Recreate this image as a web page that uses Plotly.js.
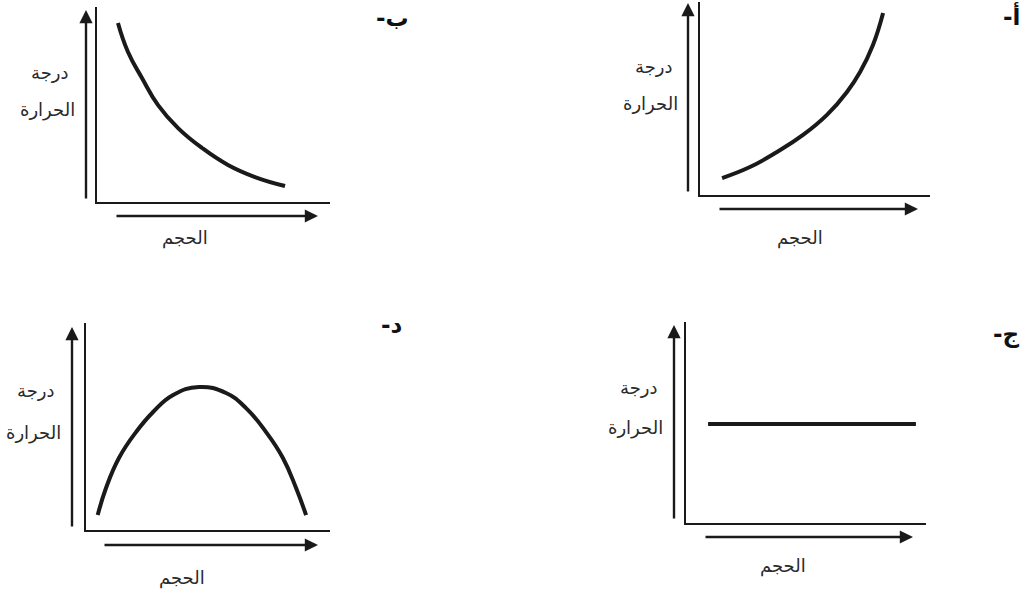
<!DOCTYPE html>
<html>
<head>
<meta charset="utf-8">
<script src="https://cdn.plot.ly/plotly-3.0.1.min.js"></script>
<style>
  html, body { margin: 0; padding: 0; background: #fff; }
  #chart { width: 1034px; height: 595px; }
</style>
</head>
<body>
<div id="chart"></div>
<script>
const W = 1034;
const H = 595;

// text
const Y_LABEL_TOP = 'درجة';
const Y_LABEL_BOTTOM = 'الحرارة';
const X_LABEL = 'الحجم';
const PANEL_LETTERS = ['أ-', 'ب-', 'ج-', 'د-'];

// curve points (axes run 0..10)
const curveA_x = [0.96, 2.17, 3.35, 4.48, 5.52, 6.39, 6.96, 7.52, 7.96];
const curveA_y = [0.88, 1.45, 2.23, 3.11, 4.15, 5.34, 6.37, 7.77, 9.43];

const curveB_x = [0.90, 1.33, 1.93, 2.62, 3.48, 4.51, 5.62, 6.78, 8.07];
const curveB_y = [9.18, 7.69, 6.36, 4.97, 3.79, 2.77, 1.90, 1.28, 0.82];

const curveC_x = [0.92, 9.58];
const curveC_y = [4.93, 4.93];

const curveD_x = [0.48, 0.82, 1.35, 2.05, 2.75, 3.57, 4.63, 5.74, 6.56, 7.38, 8.07, 8.61, 9.02];
const curveD_y = [0.72, 2.03, 3.48, 4.73, 5.70, 6.52, 6.91, 6.62, 5.89, 4.73, 3.48, 2.03, 0.72];

// panel frames in page pixels: left, right, top, bottom of the L axes
// yLab: right edge + middle y of the two label lines
const panels = [
  { id: '', curve: [curveA_x, curveA_y], box: [700, 930, 2, 195],
    yArrow: [688, 3, 193], xArrow: [209, 718, 918],
    yLab: [675, 66, 680, 104], xLab: [800, 238], letter: [1011, 15] },
  { id: '2', curve: [curveB_x, curveB_y], box: [97, 330, 7, 202],
    yArrow: [86, 10, 200], xArrow: [216, 115, 318],
    yLab: [71, 72, 77, 110], xLab: [185, 238], letter: [392, 18] },
  { id: '3', curve: [curveC_x, curveC_y], box: [686, 926, 322, 523],
    yArrow: [674, 325, 520], xArrow: [537, 704, 913],
    yLab: [660, 387, 665, 428], xLab: [783, 566], letter: [1006, 334] },
  { id: '4', curve: [curveD_x, curveD_y], box: [86, 330, 323, 530],
    yArrow: [72, 327, 528], xArrow: [545, 103, 318],
    yLab: [57, 390, 63, 433], xLab: [182, 578], letter: [392, 325] }
];

const fx = (x) => x / W;
const fy = (y) => 1 - y / H;
const RLM = '\u200F';

const INK = '#1a1a1a';
const labelFont = { family: 'DejaVu Sans, sans-serif', size: 18, color: '#2a2a2a' };
const letterFont = { family: 'DejaVu Sans, sans-serif', size: 23, color: '#111' };

const traces = [];
const annotations = [];
const layout = {
  width: W,
  height: H,
  margin: { l: 0, r: 0, t: 0, b: 0 },
  paper_bgcolor: '#fff',
  plot_bgcolor: 'rgba(0,0,0,0)',
  showlegend: false
};

const arrow = (tipX, tipY, tailX, tailY) => ({
  xref: 'paper', yref: 'paper', x: fx(tipX), y: fy(tipY),
  axref: 'pixel', ayref: 'pixel', ax: tailX - tipX, ay: tailY - tipY,
  text: '', showarrow: true, arrowhead: 2, arrowsize: 1.1, arrowwidth: 2.4,
  arrowcolor: INK, standoff: 0
});

const label = (text, x, y, font, xanchor = 'center') => ({
  xref: 'paper', yref: 'paper', x: fx(x), y: fy(y),
  xanchor, yanchor: 'middle', text, showarrow: false, font
});

panels.forEach((p, i) => {
  const [l, r, t, b] = p.box;
  const axis = {
    range: [0, 10], showline: true, linecolor: INK, linewidth: 2.2,
    showgrid: false, zeroline: false, showticklabels: false, ticks: '', fixedrange: true
  };
  layout['xaxis' + p.id] = { ...axis, domain: [fx(l), fx(r)], anchor: 'y' + p.id };
  layout['yaxis' + p.id] = { ...axis, domain: [fy(b), fy(t)], anchor: 'x' + p.id };

  traces.push({
    type: 'scatter', mode: 'lines', x: p.curve[0], y: p.curve[1],
    xaxis: 'x' + p.id, yaxis: 'y' + p.id, cliponaxis: false,
    line: { color: INK, width: 4, shape: 'spline', smoothing: 1.3 },
    hoverinfo: 'skip'
  });

  annotations.push(arrow(p.yArrow[0], p.yArrow[1], p.yArrow[0], p.yArrow[2]));
  annotations.push(arrow(p.xArrow[2], p.xArrow[0], p.xArrow[1], p.xArrow[0]));
  annotations.push(label(Y_LABEL_TOP, p.yLab[0], p.yLab[1], labelFont, 'right'));
  annotations.push(label(Y_LABEL_BOTTOM, p.yLab[2], p.yLab[3], labelFont, 'right'));
  annotations.push(label(X_LABEL, p.xLab[0], p.xLab[1], labelFont));
  annotations.push(label('<b>' + RLM + PANEL_LETTERS[i] + RLM + '</b>', p.letter[0], p.letter[1], letterFont));
});

layout.annotations = annotations;

Plotly.newPlot('chart', traces, layout, { displayModeBar: false, staticPlot: true });
</script>
</body>
</html>
